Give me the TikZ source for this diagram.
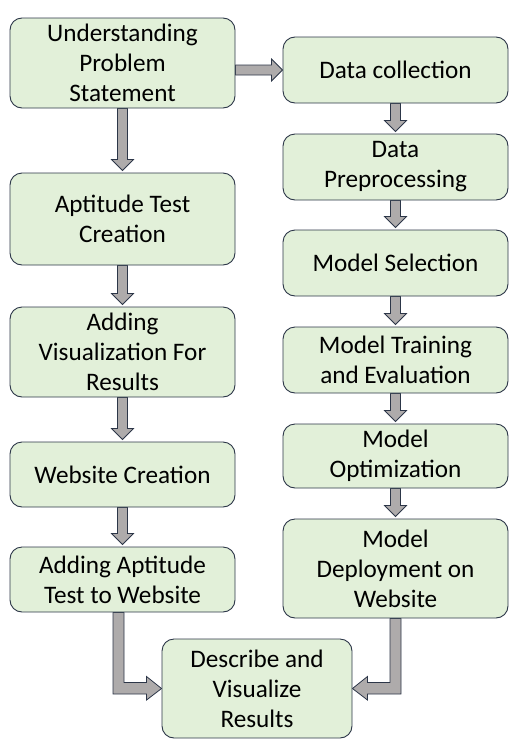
\documentclass[tikz,border=0pt]{standalone}
\usepackage{fontspec}
\setmainfont{Carlito}
\usetikzlibrary{calc,backgrounds}

\definecolor{boxfill}{RGB}{226,240,217}
\definecolor{boxline}{RGB}{44,54,72}
\definecolor{arrowfill}{RGB}{174,171,171}

\tikzset{
  box/.style={draw=boxline,fill=boxfill,line width=0.9pt,rounded corners=12pt,
    align=center,inner sep=2pt,font=\fontsize{25.2}{30}\selectfont},
  leftbox/.style={box,minimum width=225},
  rightbox/.style={box,minimum width=225},
  blockarrow/.style={draw=boxline,fill=arrowfill,line width=0.8pt,line join=miter}
}

% block arrow pointing down, from one box to the next
\newcommand\downblock[2]{%
  \draw[blockarrow] ($(#1.south)+(-5,0)$) -- ($(#2.north)+(-5,-13)$) -- ++(-6,0)
    -- ($(#2.north)+(0,-2)$) -- ++(11,-11) -- ++(-6,0) -- ($(#1.south)+(5,0)$) -- cycle;}

\begin{document}
\begin{tikzpicture}[x=1pt,y=-1pt]
\useasboundingbox (0,0) rectangle (522,747);

% left column
\node[leftbox,minimum height=90] (underst) at (122.5,63) {Understanding\\Problem\\Statement};
\node[leftbox,minimum height=92] (aptitude) at (122.5,219) {Aptitude Test\\Creation};
\node[leftbox,minimum height=90] (visual) at (122.5,352) {Adding\\Visualization For\\Results};
\node[leftbox,minimum height=65] (website) at (122.5,474.5) {Website Creation};
\node[leftbox,minimum height=65] (addtest) at (122.5,579.5) {Adding Aptitude\\Test to Website};

% right column
\node[rightbox,minimum height=66] (collect) at (395.5,70) {Data collection};
\node[rightbox,minimum height=66] (preproc) at (395.5,167) {Data\\Preprocessing};
\node[rightbox,minimum height=66] (select) at (395.5,263) {Model Selection};
\node[rightbox,minimum height=66] (train) at (395.5,360) {Model Training\\and Evaluation};
\node[rightbox,minimum height=64] (optim) at (395.5,456) {Model\\Optimization};
\node[rightbox,minimum height=99] (deploy) at (395.5,568.5) {Model\\Deployment on\\Website};

% bottom
\node[box,minimum width=190,minimum height=99] (results) at (257,688.5) {Describe and\\Visualize\\Results};

\begin{scope}[on background layer]
\foreach \a/\b in {underst/aptitude,aptitude/visual,visual/website,website/addtest,
    collect/preproc,preproc/select,select/train,train/optim,optim/deploy}
  \downblock{\a}{\b};

% across to the data side
\draw[blockarrow] ($(underst.east |- collect.west)+(0,-5)$) -- ($(collect.west)+(-11,-5)$)
  -- ++(0,-6) -- (collect.west) -- ++(-11,11) -- ++(0,-6)
  -- ($(underst.east |- collect.west)+(0,5)$) -- cycle;

% elbows into the results box
\draw[blockarrow] ($(addtest.south)+(-9.5,0)$) |- ($(results.west)+(-15,5.5)$) -- ++(0,6)
  -- (results.west) -- ++(-15,-12) -- ++(0,6) -| ($(addtest.south)+(1.5,0)$) -- cycle;
\draw[blockarrow] ($(deploy.south)+(5.5,0)$) |- ($(results.east)+(15,5.5)$) -- ++(0,6)
  -- (results.east) -- ++(15,-12) -- ++(0,6) -| ($(deploy.south)+(-5.5,0)$) -- cycle;
\end{scope}
\end{tikzpicture}
\end{document}
